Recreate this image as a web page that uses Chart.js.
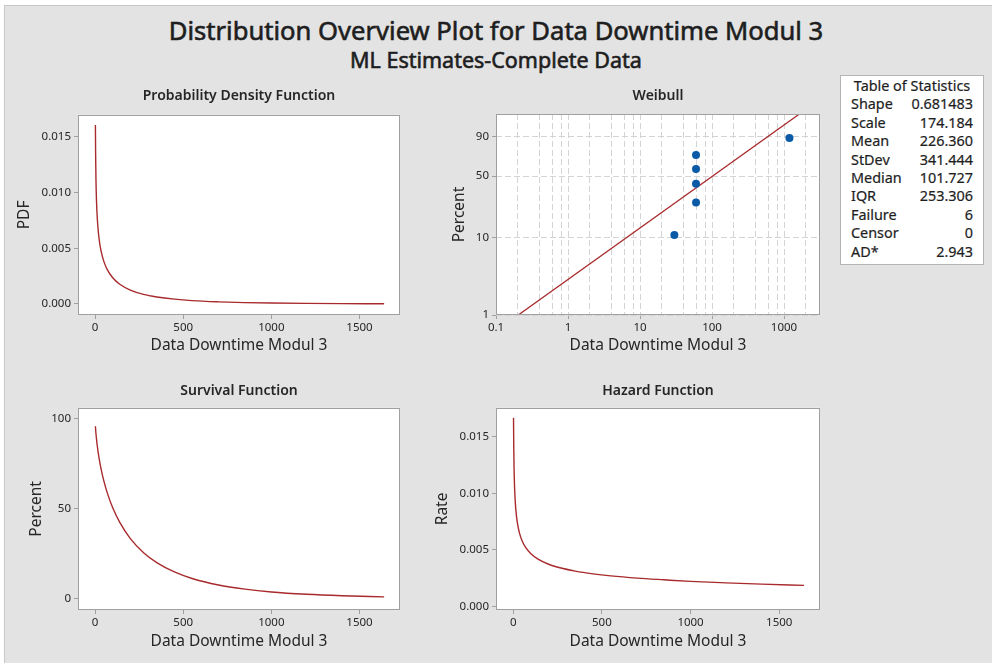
<!DOCTYPE html>
<html>
<head>
<meta charset="utf-8">
<script src="https://cdn.jsdelivr.net/npm/chart.js@4.4.0/dist/chart.umd.min.js"></script>
<style>
  html, body { margin: 0; padding: 0; background: #fff; }
  body { width: 992px; height: 663px; position: relative; overflow: hidden;
         font-family: "Noto Sans", "Open Sans", sans-serif; color: #1e1e1e; }
  #panel { position: absolute; left: 4px; top: 5px; right: 0; bottom: 0; background: #e3e3e3;
           border-left: 1px solid #c8c8c8; border-top: 1px solid #c8c8c8; }
  .title { position: absolute; left: 0; width: 992px; text-align: center; font-weight: normal;
           -webkit-text-stroke: 0.6px #1e1e1e; }
  #mainTitle { top: 16px; font-size: 25.6px; line-height: 30px; }
  #subTitle { top: 48px; font-size: 21.5px; line-height: 24px; }
  canvas { position: absolute; }
  #stats { position: absolute; left: 840px; top: 75px; width: 122px; height: 184px;
           padding: 1px 10px 3px 10px; background: #fff; border: 1px solid #b4b4b4;
           font-size: 14.4px; line-height: 18.4px; -webkit-text-stroke: 0.2px #1e1e1e; }
  #stats .head { text-align: center; }
  #stats .row { display: flex; justify-content: space-between; }
</style>
</head>
<body>
<div id="panel"></div>
<div id="mainTitle" class="title">Distribution Overview Plot for Data Downtime Modul 3</div>
<div id="subTitle" class="title">ML Estimates-Complete Data</div>
<canvas id="pdfChart" width="420" height="290" style="left:0;top:80px"></canvas>
<canvas id="weibullChart" width="420" height="290" style="left:420px;top:80px"></canvas>
<canvas id="survChart" width="420" height="290" style="left:0;top:373px"></canvas>
<canvas id="hazChart" width="420" height="290" style="left:420px;top:373px"></canvas>
<div id="stats"></div>

<script>
// Data
const curveX = [1.8, 3, 5, 8, 12, 18, 25, 35, 50, 70, 100, 140, 200, 275, 350, 450, 550, 700, 850, 1000, 1200, 1400, 1640];
const pdfY = [0.01606, 0.0134, 0.0111, 0.00924, 0.0078, 0.00652, 0.00556, 0.00467, 0.0038, 0.00306, 0.00235, 0.00177,
              0.00125, 0.00086, 0.00063, 0.00043, 0.0003, 0.00019, 0.00012, 0.00008, 0.00005, 0.00003, 0.00002];
const survY = [95.7, 93.9, 91.5, 88.5, 85.1, 80.8, 76.6, 71.5, 65.2, 58.4, 50.4, 42.3, 33.3, 25.5, 20.0, 14.8, 11.2,
               7.6, 5.3, 3.7, 2.4, 1.6, 1.0];
const hazY = [0.0167, 0.01427, 0.01213, 0.01044, 0.00917, 0.00806, 0.00726, 0.00652, 0.00582, 0.00523, 0.00467, 0.00419,
              0.00374, 0.00338, 0.00313, 0.00289, 0.00271, 0.00251, 0.00236, 0.00222, 0.00209, 0.00198, 0.00187];

const weibullX = [30, 60, 60, 60, 60, 1190];
const weibullP = [10.9, 26.6, 42.2, 57.8, 73.4, 89.1];
const fitX = [0.204, 1637];
const fitP = [1, 99];

const downtimeTicks = [0, 500, 1000, 1500];
const pdfTicks = [0, 0.005, 0.01, 0.015];
const survTicks = [0, 50, 100];
const hazTicks = [0, 0.005, 0.01, 0.015];
const logLabelTicks = [0.1, 1, 10, 100, 1000];
const logGridTicks = [0.1, 0.2, 0.4, 0.6, 0.8, 1, 2, 4, 6, 8, 10, 20, 40, 60, 80, 100, 200, 400, 600, 800, 1000, 2000];
const percentTicks = [1, 10, 50, 90];

const statNames = ['Shape', 'Scale', 'Mean', 'StDev', 'Median', 'IQR', 'Failure', 'Censor', 'AD*'];
const statValues = ['0.681483', '174.184', '226.360', '341.444', '101.727', '253.306', '6', '0', '2.943'];

// Styles
const curveColor = '#a82a2c';
const axisColor = '#a0a0a0';
const gridColor = '#d4d4d4';
const labelColor = '#262626';
const fontFamily = '"Noto Sans", "Open Sans", sans-serif';
const tickFont = { family: fontFamily, size: 11.5 };
const axisTitleFont = { family: fontFamily, size: 15.5 };
const panelTitleFont = { family: fontFamily, size: 14, weight: '600' };
const xName = 'Data Downtime Modul 3';

// Weibull probability scale
const weibullT = p => Math.log(-Math.log(1 - p / 100));

class WeibullScale extends Chart.LinearScale {
    static id = 'weibull';
    determineDataLimits() {
        this.min = this.options.min;
        this.max = this.options.max;
    }
    buildTicks() {
        return percentTicks.map(v => ({ value: v }));
    }
    configure() {
        super.configure();
        this._tStart = weibullT(this.min);
        this._tRange = weibullT(this.max) - this._tStart;
    }
    getPixelForValue(value) {
        return this.getPixelForDecimal((weibullT(value) - this._tStart) / this._tRange);
    }
    getValueForPixel(pixel) {
        const t = this._tStart + this.getDecimalForPixel(pixel) * this._tRange;
        return 100 * (1 - Math.exp(-Math.exp(t)));
    }
}
Chart.register(WeibullScale);

// White plot area and frame
const framePlugin = {
    id: 'frame',
    beforeDraw(chart) {
        const a = chart.chartArea;
        chart.ctx.save();
        chart.ctx.fillStyle = '#fff';
        chart.ctx.fillRect(a.left, a.top, a.right - a.left, a.bottom - a.top);
        chart.ctx.restore();
    },
    afterDraw(chart) {
        const a = chart.chartArea;
        const ctx = chart.ctx;
        ctx.save();
        ctx.strokeStyle = axisColor;
        ctx.lineWidth = 1;
        const l = Math.round(a.left) + 0.5, t = Math.round(a.top) + 0.5;
        const r = Math.round(a.right) - 0.5, b = Math.round(a.bottom) - 0.5;
        ctx.strokeRect(l, t, r - l, b - t);
        ctx.restore();
    }
};

function baseOptions(cfg) {
    return {
        responsive: false,
        animation: false,
        layout: { padding: { right: 20 } },
        plugins: {
            legend: { display: false },
            tooltip: { enabled: false },
            title: {
                display: true, text: cfg.title, fullSize: false, color: labelColor,
                font: panelTitleFont, padding: { top: cfg.titleTop, bottom: cfg.titleBottom }
            }
        },
        scales: {
            x: {
                type: 'linear', min: -97, max: 1730,
                afterBuildTicks: s => { s.ticks = downtimeTicks.map(v => ({ value: v })); },
                afterFit: s => { s.height = cfg.xHeight; },
                grid: { drawOnChartArea: false, tickLength: 4, tickColor: axisColor },
                border: { display: false },
                ticks: { font: tickFont, color: labelColor, padding: 2, maxRotation: 0, autoSkip: false,
                         callback: v => String(v) },
                title: { display: true, text: xName, font: axisTitleFont, color: labelColor,
                         padding: { top: 0, bottom: cfg.xTitlePad } }
            },
            y: {
                type: 'linear', min: cfg.yMin, max: cfg.yMax,
                afterBuildTicks: s => { s.ticks = cfg.yTicks.map(v => ({ value: v })); },
                afterFit: s => { s.width = cfg.yWidth; },
                grid: { drawOnChartArea: false, tickLength: 4, tickColor: axisColor },
                border: { display: false },
                ticks: { font: tickFont, color: labelColor, padding: 3, autoSkip: false, callback: cfg.yFormat },
                title: { display: true, text: cfg.yTitle, font: axisTitleFont, color: labelColor,
                         padding: { top: cfg.yTitlePad, bottom: 0 } }
            }
        }
    };
}

function curveDataset(values) {
    return {
        data: curveX.map((x, i) => ({ x: x, y: values[i] })),
        borderColor: curveColor,
        borderWidth: 1.4,
        pointRadius: 0,
        cubicInterpolationMode: 'monotone',
        fill: false
    };
}

// PDF
new Chart(document.getElementById('pdfChart'), {
    type: 'line',
    data: { datasets: [curveDataset(pdfY)] },
    options: baseOptions({
        title: 'Probability Density Function', titleTop: 8, titleBottom: 10,
        yTitle: 'PDF', yTitlePad: 15.4, xTitlePad: 15.4, yWidth: 78, xHeight: 55,
        yMin: -0.00099, yMax: 0.01697, yTicks: pdfTicks, yFormat: v => v.toFixed(3)
    }),
    plugins: [framePlugin]
});

// Survival
new Chart(document.getElementById('survChart'), {
    type: 'line',
    data: { datasets: [curveDataset(survY)] },
    options: baseOptions({
        title: 'Survival Function', titleTop: 10, titleBottom: 8,
        yTitle: 'Percent', yTitlePad: 27, xTitlePad: 12, yWidth: 78, xHeight: 53,
        yMin: -6.3, yMax: 105.9, yTicks: survTicks, yFormat: v => String(v)
    }),
    plugins: [framePlugin]
});

// Hazard
new Chart(document.getElementById('hazChart'), {
    type: 'line',
    data: { datasets: [curveDataset(hazY)] },
    options: baseOptions({
        title: 'Hazard Function', titleTop: 10, titleBottom: 8,
        yTitle: 'Rate', yTitlePad: 13.7, xTitlePad: 12.5, yWidth: 76, xHeight: 53,
        yMin: -0.00031, yMax: 0.01758, yTicks: hazTicks, yFormat: v => v.toFixed(3)
    }),
    plugins: [framePlugin]
});

// Weibull probability plot
const weibullOptions = baseOptions({
    title: 'Weibull', titleTop: 8, titleBottom: 9.2,
    yTitle: 'Percent', yTitlePad: 30.4, xTitlePad: 15.4, yWidth: 76, xHeight: 55,
    yMin: 1, yMax: 99, yTicks: percentTicks, yFormat: v => String(v)
});
const labeledTick = (list) => (ctx) => (ctx.tick && list.includes(ctx.tick.value)) ? axisColor : 'rgba(0,0,0,0)';
weibullOptions.scales.x = Object.assign(weibullOptions.scales.x, {
    type: 'logarithmic', min: 0.1, max: 3162,
    afterBuildTicks: s => { s.ticks = logGridTicks.map(v => ({ value: v })); },
    grid: { drawOnChartArea: true, color: gridColor, tickLength: 4, tickColor: labeledTick(logLabelTicks) },
    border: { display: false, dash: [6, 3] }
});
weibullOptions.scales.x.ticks = Object.assign({}, weibullOptions.scales.x.ticks, {
    callback: v => logLabelTicks.includes(v) ? String(v) : ''
});
weibullOptions.scales.y = Object.assign(weibullOptions.scales.y, {
    type: 'weibull',
    afterBuildTicks: undefined,
    grid: { drawOnChartArea: true, color: gridColor, tickLength: 4, tickColor: axisColor },
    border: { display: false, dash: [6, 3] }
});

new Chart(document.getElementById('weibullChart'), {
    type: 'line',
    data: {
        datasets: [
            {
                data: weibullX.map((x, i) => ({ x: x, y: weibullP[i] })),
                showLine: false,
                pointRadius: 4,
                pointBackgroundColor: '#0b5aa8',
                pointBorderWidth: 0
            },
            {
                data: fitX.map((x, i) => ({ x: x, y: fitP[i] })),
                borderColor: curveColor,
                borderWidth: 1.3,
                pointRadius: 0
            }
        ]
    },
    options: weibullOptions,
    plugins: [framePlugin]
});

// Table of Statistics
const stats = document.getElementById('stats');
let html = '<div class="head">Table of Statistics</div>';
statNames.forEach((name, i) => {
    html += '<div class="row"><span>' + name + '</span><span>' + statValues[i] + '</span></div>';
});
stats.innerHTML = html;
</script>
</body>
</html>
